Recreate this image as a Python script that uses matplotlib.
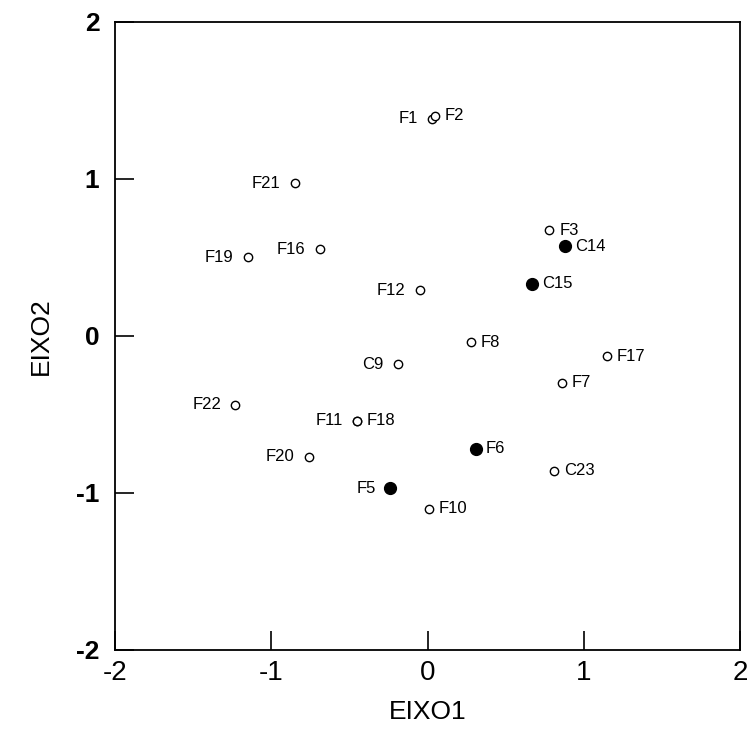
import matplotlib
matplotlib.use('Agg')
import matplotlib.pyplot as plt

plt.rcParams['font.family'] = ['Liberation Sans', 'DejaVu Sans']
plt.rcParams['axes.unicode_minus'] = False

# scores on the two axes
names = ['F1', 'F2', 'F21', 'F19', 'F16', 'F12', 'F3', 'C14', 'C15', 'F8',
         'C9', 'F17', 'F7', 'F22', 'F11', 'F18', 'F6', 'F20', 'C23', 'F5', 'F10']
eixo1 = [0.03, 0.05, -0.85, -1.15, -0.69, -0.05, 0.78, 0.88, 0.67, 0.28,
         -0.19, 1.15, 0.86, -1.23, -0.45, -0.45, 0.31, -0.76, 0.81, -0.24, 0.01]
eixo2 = [1.38, 1.40, 0.97, 0.50, 0.55, 0.29, 0.67, 0.57, 0.33, -0.04,
         -0.18, -0.13, -0.30, -0.44, -0.54, -0.54, -0.72, -0.77, -0.86, -0.97, -1.10]
filled = ['C14', 'C15', 'F6', 'F5']
left_labels = ['F1', 'F21', 'F19', 'F16', 'F12', 'C9', 'F22', 'F11', 'F20', 'F5']

fig = plt.figure(figsize=(7.5, 7.42), dpi=100)
ax = fig.add_axes([0.153, 0.124, 0.834, 0.847])

for n, x, y in zip(names, eixo1, eixo2):
    if n in filled:
        ax.plot(x, y, 'o', color='black', markersize=8.5, zorder=3)
    else:
        ax.plot(x, y, 'o', mfc='white', mec='black', mew=1.0, markersize=6, zorder=3)
    if n in left_labels:
        ax.annotate(n, (x, y), xytext=(-10, 0), textcoords='offset points',
                    ha='right', va='center', fontsize=12)
    else:
        ax.annotate(n, (x, y), xytext=(7, 0), textcoords='offset points',
                    ha='left', va='center', fontsize=12)

ax.set_xlim(-2, 2)
ax.set_ylim(-2, 2)
ax.set_xticks([-2, -1, 0, 1, 2])
ax.set_yticks([-2, -1, 0, 1, 2])
ax.tick_params(direction='in', length=14, width=1.2, labelsize=19)
ax.tick_params(axis='y', pad=11)
ax.tick_params(axis='x', pad=7, labelsize=20)
for lab in ax.get_yticklabels():
    lab.set_fontweight('bold')
for s in ax.spines.values():
    s.set_linewidth(1.3)
ax.set_xlabel('EIXO1', fontsize=19, labelpad=10)
ax.set_ylabel('EIXO2', fontsize=19, labelpad=17)

plt.savefig('out.png', dpi=100)
